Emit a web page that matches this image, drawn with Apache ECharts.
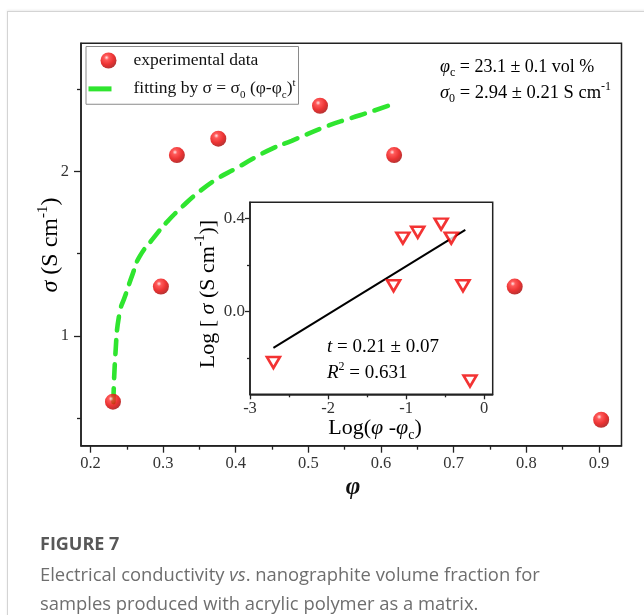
<!DOCTYPE html>
<html>
<head>
<meta charset="utf-8">
<script src="https://cdn.jsdelivr.net/npm/echarts@6/dist/echarts.min.js"></script>
<style>
  html, body { margin: 0; padding: 0; background: #fff; }
  #wrap { position: relative; width: 644px; height: 615px; overflow: hidden; }
  #card { position: absolute; left: 7px; top: 11px; width: 700px; height: 700px;
          border: 1px solid #d4d4d4; box-shadow: 0 -1px 2px rgba(0,0,0,0.08); }
  #chart { position: absolute; left: 0; top: 0; width: 644px; height: 615px; }
  .cap { position: absolute; left: 40px; font-family: "Open Sans", sans-serif; color: #6e6e6e; white-space: nowrap; }
  #fig { top: 530px; font-weight: 700; font-size: 18px; color: #585858; line-height: 26px; }
  #txt { top: 560px; font-size: 18.4px; line-height: 28.7px; }
</style>
</head>
<body>
<div id="wrap">
  <div id="card"></div>
  <div id="chart"></div>
  <div class="cap" id="fig">FIGURE 7</div>
  <div class="cap" id="txt">Electrical conductivity <i>vs</i>. nanographite volume fraction for<br>samples produced with acrylic polymer as a matrix.</div>
</div>
<script>
// ---------- data ----------
const phiExp = [0.231, 0.297, 0.319, 0.376, 0.516, 0.618, 0.784, 0.903];
const sigmaExp = [0.60, 1.30, 2.10, 2.20, 2.40, 2.10, 1.30, 0.49];

const phiFit = [0.2316, 0.2344, 0.2399, 0.2481, 0.2583, 0.2674, 0.2880, 0.3055, 0.3271, 0.3477,
                0.3752, 0.4004, 0.4256, 0.4509, 0.4770, 0.5266, 0.5572, 0.5861, 0.6173];
const sigmaFit = [0.597, 0.892, 1.136, 1.247, 1.379, 1.481, 1.602, 1.694, 1.789, 1.870,
                  1.958, 2.019, 2.083, 2.141, 2.187, 2.278, 2.323, 2.364, 2.411];

const logPhi = [-2.70, -1.16, -1.04, -0.85, -0.55, -0.42, -0.27, -0.18];
const logSigma = [-0.22, 0.11, 0.315, 0.34, 0.375, 0.315, 0.11, -0.30];

const logFitX = [-2.70, -0.24];
const logFitY = [-0.157, 0.350];

const mainXTicks = [0.2, 0.3, 0.4, 0.5, 0.6, 0.7, 0.8, 0.9];
const mainXMinor = [0.25, 0.35, 0.45, 0.55, 0.65, 0.75, 0.85];
const mainYTicks = [1, 2];
const mainYMinor = [0.5, 1.5, 2.5];
const insetXTicks = [-3, -2, -1, 0];
const insetXMinor = [-2.5, -1.5, -0.5];
const insetYTicks = [0, 0.4];
const insetYMinor = [-0.2, 0.2];

// ---------- chart ----------
const SERIF = '"Liberation Serif", "Times New Roman", serif';
const chart = echarts.init(document.getElementById('chart'), null, {renderer: 'canvas'});

const zip = (a, b) => a.map((v, i) => [v, b[i]]);

const sphere = {
  type: 'radial', x: 0.38, y: 0.32, r: 0.68,
  colorStops: [
    {offset: 0, color: '#ffe0e0'},
    {offset: 0.22, color: '#ff3030'},
    {offset: 0.65, color: '#e60000'},
    {offset: 1, color: '#a80000'}
  ]
};

const axisLineStyle = {color: '#222', width: 1.5};

function majorAxis(pos, gridIndex, min, max, ticks, fmt, len, margin, size) {
  return {
    type: 'value', gridIndex, position: pos, min, max,
    axisLine: {show: true, onZero: false, lineStyle: axisLineStyle},
    axisTick: {show: true, inside: false, length: len, customValues: ticks, lineStyle: {color: '#222', width: 1.3}},
    axisLabel: {show: true, customValues: ticks, formatter: fmt, margin,
                fontFamily: SERIF, fontSize: size, color: '#333'},
    splitLine: {show: false}
  };
}
function minorAxis(pos, gridIndex, min, max, ticks, len) {
  return {
    type: 'value', gridIndex, position: pos, min, max,
    axisLine: {show: false, onZero: false},
    axisTick: {show: true, inside: false, length: len, customValues: ticks, lineStyle: {color: '#222', width: 1.3}},
    axisLabel: {show: false},
    splitLine: {show: false}
  };
}

function richSized(size, subRatio) {
  const s = Math.round(size * (subRatio || 0.62));
  return {
    n: {fontFamily: SERIF, fontSize: size, color: '#111', lineHeight: size * 1.3},
    i: {fontFamily: SERIF, fontSize: size, fontStyle: 'italic', color: '#111', lineHeight: size * 1.3},
    sub: {fontFamily: SERIF, fontSize: s, color: '#111', lineHeight: s, verticalAlign: 'bottom'},
    sup: {fontFamily: SERIF, fontSize: s, color: '#111', lineHeight: s, verticalAlign: 'top'}
  };
}

const option = {
  backgroundColor: 'transparent',
  animation: false,
  grid: [
    {left: 81, top: 43.3, width: 540.5, height: 402.4, show: true, borderColor: '#222', borderWidth: 1.5, backgroundColor: 'transparent'},
    {left: 250, top: 202.3, width: 242.7, height: 192, show: true, borderColor: '#222', borderWidth: 1.5, backgroundColor: '#fff'}
  ],
  xAxis: [
    majorAxis('bottom', 0, 0.187, 0.931, mainXTicks, v => v.toFixed(1), 7, 9, 16.5),
    minorAxis('bottom', 0, 0.187, 0.931, mainXMinor, 4),
    majorAxis('bottom', 1, -3, 0.111, insetXTicks, v => String(Math.round(v)), 5, 6, 16.5),
    minorAxis('bottom', 1, -3, 0.111, insetXMinor, 3)
  ],
  yAxis: [
    majorAxis('left', 0, 0.332, 2.78, mainYTicks, v => String(Math.round(v)), 7, 12, 16.5),
    minorAxis('left', 0, 0.332, 2.78, mainYMinor, 4),
    majorAxis('left', 1, -0.357, 0.469, insetYTicks, v => v.toFixed(1), 5, 5, 17),
    minorAxis('left', 1, -0.357, 0.469, insetYMinor, 3)
  ],
  legend: {
    left: 86, top: 46.5, orient: 'vertical',
    borderColor: '#8a8a8a', borderWidth: 1, borderRadius: 0,
    padding: [5, 3, 4, 0], itemGap: 8, itemWidth: 40, itemHeight: 16,
    textStyle: {fontFamily: SERIF, fontSize: 17.5, color: '#111', rich: richSized(17.5)},
    data: [
      {name: 'exp', icon: 'circle'},
      {name: 'fit', lineStyle: {type: [23, 200], width: 5, color: '#2fe52f', cap: 'butt'}, itemStyle: {opacity: 0}}
    ],
    formatter: n => n === 'exp' ? '{n|experimental data}' : '{n|fitting by σ = σ}{sub|0}{n| (φ-φ}{sub|c}{n|)}{sup|t}'
  },
  series: [
    {
      name: 'fit', type: 'line', xAxisIndex: 0, yAxisIndex: 0,
      data: zip(phiFit, sigmaFit), showSymbol: false, symbol: 'none', smooth: true,
      lineStyle: {color: '#2fe52f', width: 4.6, type: [14, 10], cap: 'round'},
      itemStyle: {color: '#2fe52f'}, z: 2
    },
    {
      name: 'exp', type: 'scatter', xAxisIndex: 0, yAxisIndex: 0,
      data: zip(phiExp, sigmaExp), symbol: 'circle', symbolSize: 16,
      itemStyle: {color: sphere}, z: 3
    },
    {
      name: 'logfit', type: 'line', xAxisIndex: 2, yAxisIndex: 2,
      data: zip(logFitX, logFitY), showSymbol: false, symbol: 'none',
      lineStyle: {color: '#000', width: 2}, z: 3
    },
    {
      name: 'logexp', type: 'scatter', xAxisIndex: 2, yAxisIndex: 2,
      data: zip(logPhi, logSigma), symbol: 'triangle', symbolRotate: 180, symbolSize: [13, 11],
      itemStyle: {color: '#fff', borderColor: '#f00000', borderWidth: 2.6}, z: 4
    }
  ],
  graphic: [
    {type: 'text', x: 51, y: 245, rotation: Math.PI / 2, z: 10,
     style: {text: '{i|σ}{n| (S cm}{sup|-1}{n|)}', rich: richSized(24), align: 'center', verticalAlign: 'middle'}},
    {type: 'text', x: 353, y: 488, z: 10,
     style: {text: 'φ', fontFamily: SERIF, fontSize: 25, fontStyle: 'italic', fontWeight: 'bold', fill: '#111', align: 'center', verticalAlign: 'middle'}},
    {type: 'text', x: 440, y: 67, z: 10,
     style: {text: '{i|φ}{sub|c}{n| = 23.1 ± 0.1 vol %}', rich: richSized(18, 0.66), align: 'left', verticalAlign: 'middle'}},
    {type: 'text', x: 440, y: 93, z: 10,
     style: {text: '{i|σ}{sub|0}{n| = 2.94 ± 0.21 S cm}{sup|-1}', rich: richSized(18.5, 0.66), align: 'left', verticalAlign: 'middle'}},
    {type: 'text', x: 208, y: 294, rotation: Math.PI / 2, z: 10,
     style: {text: '{n|Log [ }{i|σ}{n| (S cm}{sup|-1}{n|)]}', rich: richSized(22), align: 'center', verticalAlign: 'middle'}},
    {type: 'text', x: 375, y: 428, z: 10,
     style: {text: '{n|Log(}{i|φ}{n| -}{i|φ}{sub|c}{n|)}', rich: richSized(22), align: 'center', verticalAlign: 'middle'}},
    {type: 'text', x: 327, y: 347, z: 10,
     style: {text: '{i|t}{n| = 0.21 ± 0.07}', rich: richSized(19), align: 'left', verticalAlign: 'middle'}},
    {type: 'text', x: 327, y: 373, z: 10,
     style: {text: '{i|R}{sup|2}{n| = 0.631}', rich: richSized(19), align: 'left', verticalAlign: 'middle'}}
  ]
};
chart.setOption(option);
</script>
</body>
</html>
